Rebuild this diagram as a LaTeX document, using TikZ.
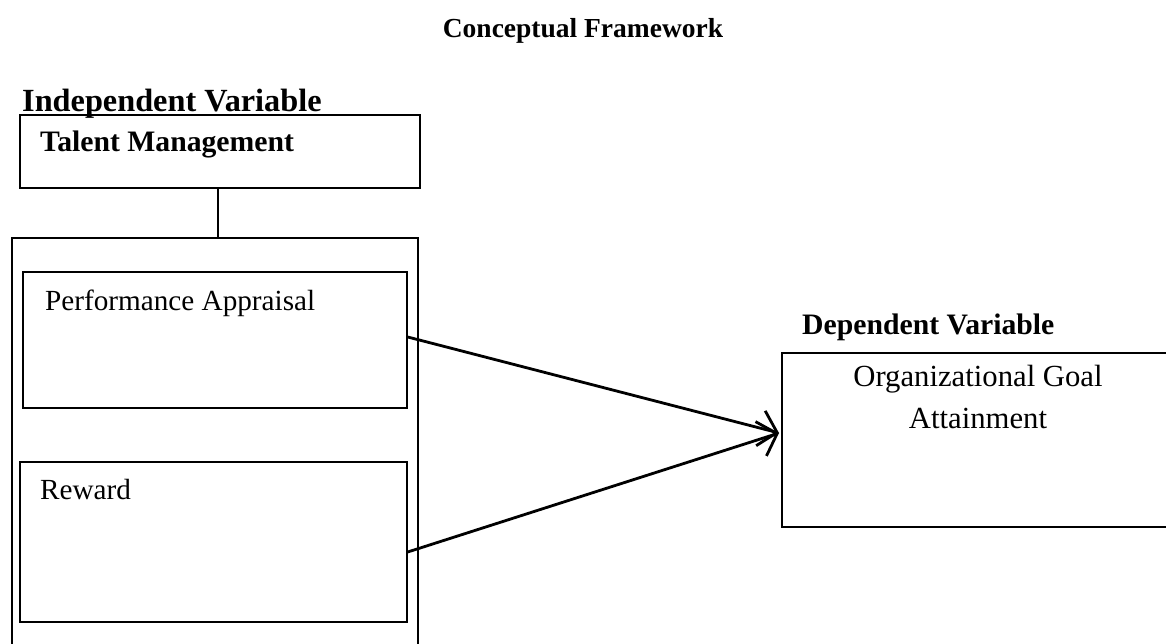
\documentclass[tikz,border=0pt]{standalone}
\usepackage{fontspec}
\setmainfont{Liberation Serif}
\usetikzlibrary{arrows.meta,fit}
\tikzset{
  boxthin/.style={draw, line width=1.4pt, inner sep=0pt},
  boxthick/.style={draw, line width=2pt, inner sep=0pt},
  boldlbl/.style={inner sep=0pt, font=\fontsize{29.7}{34}\selectfont\bfseries},
  plainlbl/.style={inner sep=0pt, font=\fontsize{29.2}{34}\selectfont},
  link/.style={line width=1.6pt},
  effect/.style={line width=2.8pt, -{Straight Barb[length=17pt,width=36pt,line width=2.8pt]}}
}
\begin{document}
\begin{tikzpicture}[x=1pt,y=-1pt]
\useasboundingbox (0,0) rectangle (1166,644);
% title
\node[boldlbl, anchor=base, font=\fontsize{27.5}{33}\selectfont\bfseries] (title) at (583,38) {Conceptual Framework};
% independent side
\node[boldlbl, anchor=base west, font=\fontsize{32.3}{36}\selectfont\bfseries] (ivlbl) at (22,112) {Independent Variable};
\node[boxthin, fit={(20,115) (420,188)}] (tm) {};
\node[boldlbl, anchor=base west] (tmlbl) at (40,152) {Talent Management};
\node[boxthick, fit={(12,238) (418,700)}] (outer) {};
\node[boxthin, fit={(23,272) (407,408)}] (pa) {};
\node[plainlbl, anchor=base west] (palbl) at (45,310) {Performance Appraisal};
\node[boxthin, fit={(20,462) (407,622)}] (rw) {};
\node[plainlbl, anchor=base west] (rwlbl) at (40,499) {Reward};
% dependent side
\node[boldlbl, anchor=base west] (dvlbl) at (802,334) {Dependent Variable};
\node[boxthick, fit={(782,353) (1200,527)}] (dv) {};
\node[plainlbl, anchor=base, font=\fontsize{30.7}{42}\selectfont] (og1) at (978,386) {Organizational Goal};
\node[plainlbl, anchor=base, font=\fontsize{30.7}{42}\selectfont] (og2) at (978,428) {Attainment};
% connectors
\draw[link] (tm.south -| 218,0) -- (outer.north -| 218,0);
\coordinate (tip) at (779,433);
\draw[effect] ([yshift=3pt]pa.east) -- (tip);
\draw[effect] ([yshift=-10pt]rw.east) -- (tip);
\end{tikzpicture}
\end{document}
